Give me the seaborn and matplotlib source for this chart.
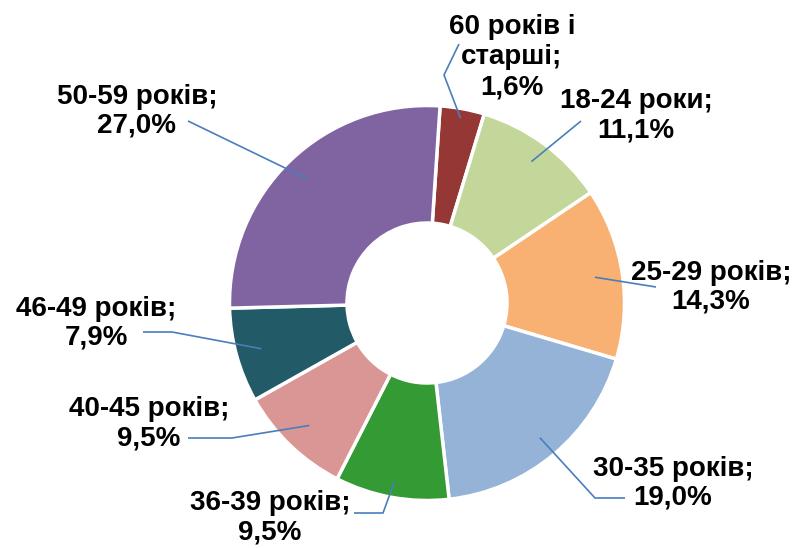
import numpy as np
import matplotlib

matplotlib.use("Agg")

import matplotlib.pyplot as plt
import seaborn as sns

# =========================
# Data
# =========================
age_groups = ["60 років і\nстарші", "18-24 роки", "25-29 років", "30-35 років",
              "36-39 років", "40-45 років", "46-49 років", "50-59 років"]
# slice sizes as drawn (the 60+ slice is drawn larger than its 1,6% label)
slice_sizes = [3.7, 11.1, 14.3, 19.0, 9.5, 9.5, 7.9, 27.0]
pct_labels = ["1,6%", "11,1%", "14,3%", "19,0%", "9,5%", "9,5%", "7,9%", "27,0%"]
slice_colors = ["#953735", "#C4D79B", "#F8B172", "#95B3D7",
                "#349A34", "#D99694", "#225A68", "#8064A2"]

sns.set_theme(style="white")
plt.rcParams["font.family"] = ["Liberation Sans", "DejaVu Sans"]

W, H = 794, 548
fig = plt.figure(figsize=(W / 100, H / 100), dpi=100)
ax = fig.add_axes([0, 0, 1, 1])

cx, cy = 427, H - 303
R = 197.5
hole = 80

palette = sns.color_palette(slice_colors)
wedges, _ = ax.pie(slice_sizes, colors=palette, startangle=86.2, counterclock=False,
                   radius=R, center=(cx, cy),
                   wedgeprops=dict(width=R - hole, edgecolor="white", linewidth=2.5))

ax.set_xlim(0, W)
ax.set_ylim(0, H)
ax.set_aspect("equal")
ax.set_axis_off()

# label layout in pixel coords (top-left origin): text centre and leader path
label_pos = [(512, 57), (636, 116), (711, 287), (673, 483),
             (270, 518), (149, 424), (96, 323), (137, 111)]
line_gap = [1.22, 1.15, 1.15, 1.15, 1.15, 1.15, 1.15, 1.15]
anchor_r = [0.95, 0.89, 0.86, 0.89, 0.92, 0.86, 0.87, 0.87]
leader_path = [[(444, 75), (459, 44)], [(581, 121)], [(656, 287)],
               [(595, 498), (625, 498)], [(383, 513), (354, 513)],
               [(232, 438), (188, 438)], [(172, 332), (143, 332)], [(188, 121)]]

for i, w in enumerate(wedges):
    mid = np.deg2rad((w.theta1 + w.theta2) / 2)
    ax_x = cx + anchor_r[i] * R * np.cos(mid)
    ax_y = cy + anchor_r[i] * R * np.sin(mid)
    xs = [ax_x] + [p[0] for p in leader_path[i]]
    ys = [ax_y] + [H - p[1] for p in leader_path[i]]
    ax.plot(xs, ys, color="#4A7EBB", lw=1.2, solid_capstyle="butt")
    tx, ty = label_pos[i]
    ax.text(tx, H - ty, f"{age_groups[i]};\n{pct_labels[i]}", ha="center", va="center",
            fontsize=20, fontweight="bold", linespacing=line_gap[i], color="black")

fig.savefig("out.png", dpi=100)
